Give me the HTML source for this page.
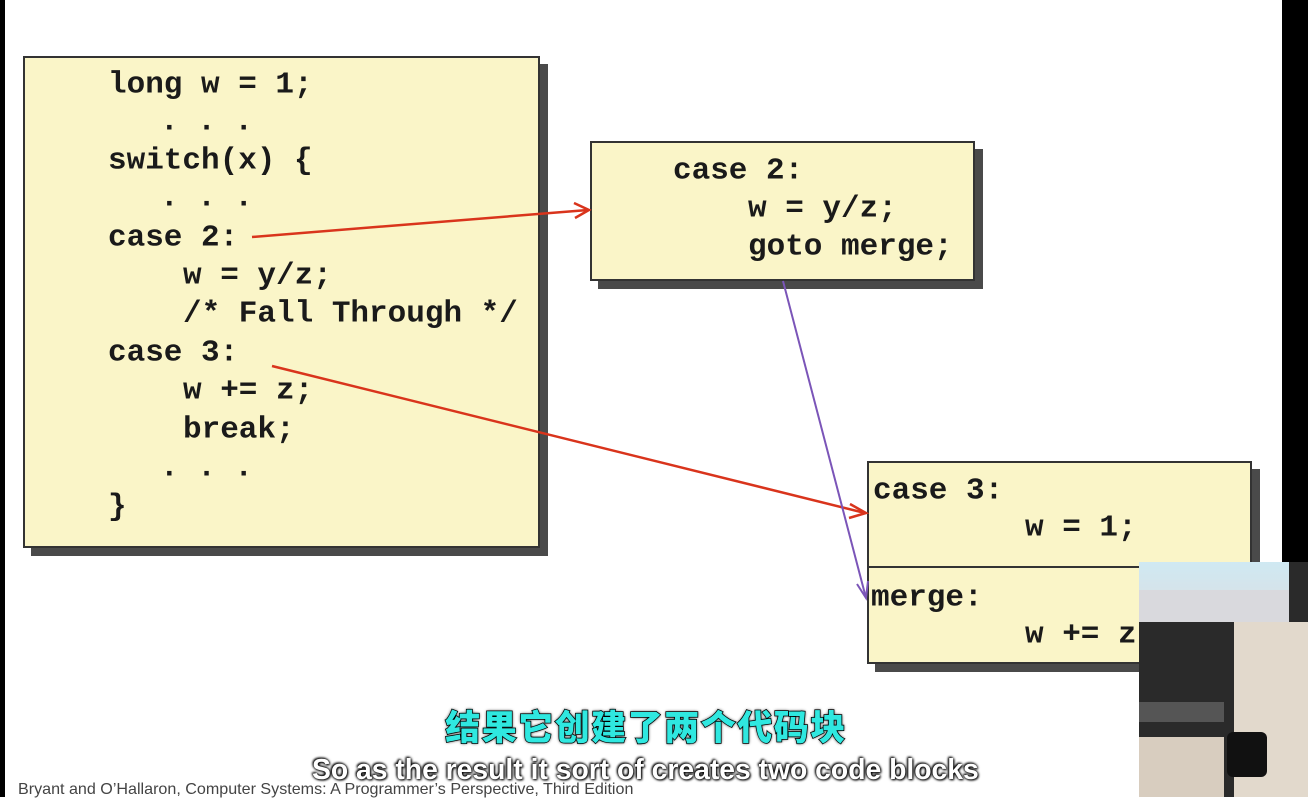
<!DOCTYPE html>
<html><head><meta charset="utf-8"><style>
body{margin:0;width:1308px;height:797px;overflow:hidden;background:#fff;position:relative;font-family:"Liberation Mono",monospace}
.box{position:absolute;background:#faf5c8;border:2px solid #333;box-shadow:8px 8px 0 #4a4a4a}
.t{position:absolute;font-weight:bold;font-size:31px;color:#1a1a1a;white-space:pre;line-height:1;transform:translateY(-50%)}
</style></head><body>
<div style="position:absolute;left:0;top:0;width:5px;height:797px;background:#000"></div>
<div style="position:absolute;left:1282px;top:0;width:26px;height:797px;background:#000"></div>

<div class="box" style="left:23px;top:56px;width:513px;height:488px"></div>
<div class="box" style="left:590px;top:141px;width:381px;height:136px"></div>
<div class="box" style="left:867px;top:461px;width:381px;height:199px"></div>
<div style="position:absolute;left:867px;top:566px;width:383px;height:2px;background:#333"></div>

<div class="t" style="left:108px;top:85px">long w = 1;</div>
<div class="t" style="left:160px;top:122px">. . .</div>
<div class="t" style="left:108px;top:161px">switch(x) {</div>
<div class="t" style="left:160px;top:198px">. . .</div>
<div class="t" style="left:108px;top:238px">case 2:</div>
<div class="t" style="left:183px;top:276px">w = y/z;</div>
<div class="t" style="left:183px;top:314px">/* Fall Through */</div>
<div class="t" style="left:108px;top:353px">case 3:</div>
<div class="t" style="left:183px;top:391px">w += z;</div>
<div class="t" style="left:183px;top:430px">break;</div>
<div class="t" style="left:160px;top:468px">. . .</div>
<div class="t" style="left:108px;top:507px">}</div>

<div class="t" style="left:673px;top:171px">case 2:</div>
<div class="t" style="left:748px;top:209px">w = y/z;</div>
<div class="t" style="left:748px;top:247px">goto merge;</div>

<div class="t" style="left:873px;top:491px">case 3:</div>
<div class="t" style="left:1025px;top:528px">w = 1;</div>
<div class="t" style="left:871px;top:598px">merge:</div>
<div class="t" style="left:1025px;top:635px">w += z;</div>

<svg width="1308" height="797" style="position:absolute;left:0;top:0">
<g fill="none" stroke-width="2.5">
<line x1="252" y1="237" x2="588" y2="210" stroke="#d9341c"/>
<polyline points="574,203 589,210 575,218" stroke="#d9341c"/>
<line x1="272" y1="366" x2="865" y2="513" stroke="#d9341c"/>
<polyline points="850,504 866,513 849,518" stroke="#d9341c"/>
<line x1="783" y1="281" x2="866" y2="598" stroke="#7b55b8" stroke-width="2"/>
<polyline points="857,584 866,598 868,581" stroke="#7b55b8" stroke-width="2"/>
</g></svg>

<div style="position:absolute;left:1139px;top:562px;width:169px;height:235px;background:#2a2a2a;overflow:hidden">
<div style="position:absolute;left:0;top:0;width:150px;height:60px;background:linear-gradient(#cfe9f2,#dcdde2)"></div>
<div style="position:absolute;left:0;top:28px;width:150px;height:32px;background:#d9d9dd"></div>
<div style="position:absolute;left:95px;top:60px;width:74px;height:175px;background:#e2d9cc"></div>
<div style="position:absolute;left:0;top:140px;width:85px;height:20px;background:#555"></div>
<div style="position:absolute;left:0;top:175px;width:85px;height:60px;background:#d8cdbf"></div>
<div style="position:absolute;left:88px;top:170px;width:40px;height:45px;background:#111;border-radius:6px"></div>
</div>

<div style="position:absolute;left:0;width:1292px;top:700px;text-align:center;font-family:'Noto Sans CJK SC',sans-serif;font-weight:900;font-size:35px;color:#2fe8e0;-webkit-text-stroke:1.5px #000;paint-order:stroke fill;text-shadow:0 0 3px #000;letter-spacing:1.5px">结果它创建了两个代码块</div>
<div style="position:absolute;left:312px;top:753px;width:668px;font-family:'Liberation Sans',sans-serif;font-weight:bold;font-size:28.3px;color:#fff;text-shadow:0 0 3px #000,1px 1px 2px #000,-1px -1px 2px #000;white-space:nowrap;letter-spacing:0px">So as the result it sort of creates two code blocks</div>
<div style="position:absolute;left:18px;top:780px;font-family:'Liberation Sans',sans-serif;font-size:16.1px;color:#444">Bryant and O’Hallaron, Computer Systems: A Programmer’s Perspective, Third Edition</div>
</body></html>
